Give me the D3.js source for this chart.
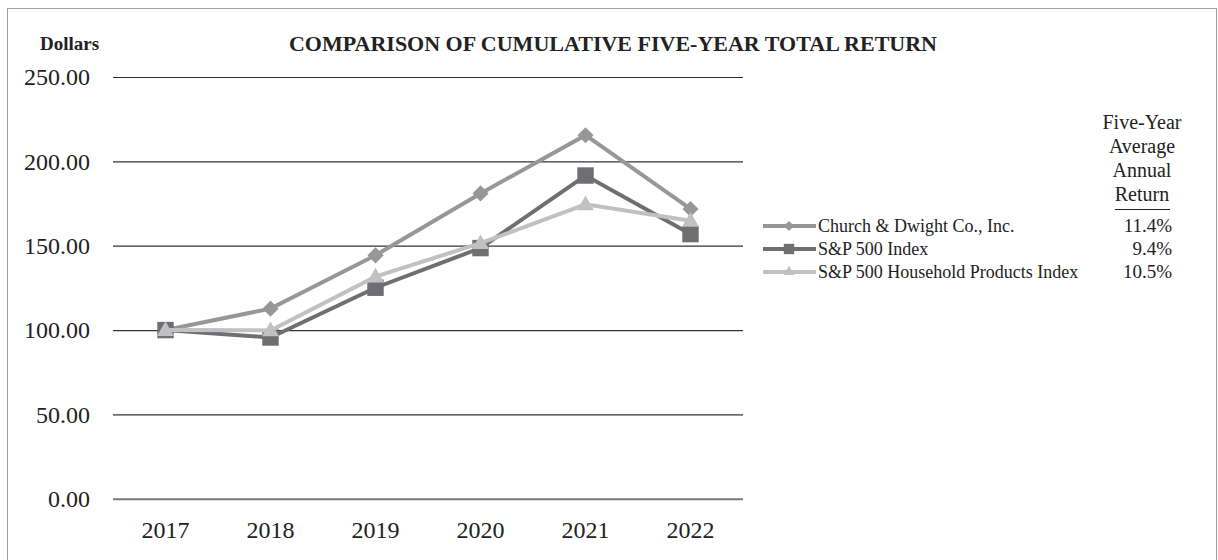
<!DOCTYPE html>
<html>
<head>
<meta charset="utf-8">
<script src="https://cdn.jsdelivr.net/npm/d3@7"></script>
<style>
  body { margin: 0; background: #fff; }
  text { font-family: "Liberation Serif", "Times New Roman", serif; fill: #222; }
</style>
</head>
<body>
<div id="chart"></div>
<script>
// chart data
var years = ['2017', '2018', '2019', '2020', '2021', '2022'];
var churchDwight = [100.00, 112.7, 144.3, 181.0, 215.5, 171.8];
var sp500 = [100.00, 95.6, 125.1, 148.6, 191.6, 156.9];
var householdProducts = [100.00, 99.8, 131.7, 151.5, 174.5, 164.8];
var seriesNames = ['Church & Dwight Co., Inc.', 'S&P 500 Index', 'S&P 500 Household Products Index'];
var avgReturns = ['11.4%', '9.4%', '10.5%'];
var yTicks = [0, 50, 100, 150, 200, 250];

var width = 1218, height = 560;
var margin = { left: 113, right: 475, top: 77, bottom: 61 };

var svg = d3.select('#chart')
  .append('svg')
  .attr('width', width)
  .attr('height', height);

// outer frame
svg.append('rect')
  .attr('x', 7.5).attr('y', 8.5)
  .attr('width', 1209).attr('height', 600)
  .attr('fill', 'none')
  .attr('stroke', '#a0a0a0')
  .attr('stroke-width', 1);

var x = d3.scaleBand().domain(years).range([margin.left, width - margin.right]);
var y = d3.scaleLinear().domain([0, 250]).range([height - margin.bottom - 0.2, margin.top]);
var cx = function(d) { return x(d) + x.bandwidth() / 2; };

// gridlines and y labels
var yAxis = d3.axisLeft(y)
  .tickValues(yTicks)
  .tickFormat(d3.format('.2f'))
  .tickSize(-(width - margin.right - margin.left))
  .tickPadding(23);
var gy = svg.append('g')
  .attr('transform', 'translate(' + margin.left + ',0)')
  .call(yAxis);
gy.select('.domain').remove();
gy.selectAll('.tick line')
  .attr('stroke', function(d) { return d === 0 ? '#7a7a7a' : '#333'; })
  .attr('stroke-width', function(d) { return d === 0 ? 2 : 1.2; });
gy.selectAll('.tick text')
  .attr('font-size', 24)
  .attr('font-family', '"Liberation Serif", serif')
  .attr('fill', '#222');

// x labels
var xAxis = d3.axisBottom(x).tickSize(0).tickPadding(22);
var gx = svg.append('g')
  .attr('transform', 'translate(0,' + y(0) + ')')
  .call(xAxis);
gx.select('.domain').remove();
gx.selectAll('.tick text')
  .attr('font-size', 24)
  .attr('font-family', '"Liberation Serif", serif')
  .attr('fill', '#222');

// series
var series = [
  { name: seriesNames[0], values: churchDwight, color: '#979799', shape: 'diamond' },
  { name: seriesNames[1], values: sp500, color: '#6f6f72', shape: 'square' },
  { name: seriesNames[2], values: householdProducts, color: '#c1c1c3', shape: 'triangle' }
];

function marker(shape, scale) {
  if (shape === 'diamond') return d3.symbol().type(d3.symbolSquare).size(130 * scale)();
  if (shape === 'square') return d3.symbol().type(d3.symbolSquare).size(270 * scale)();
  return d3.symbol().type(d3.symbolTriangle).size(125 * scale)();
}

var line = d3.line()
  .x(function(d, i) { return cx(years[i]); })
  .y(function(d) { return y(d); });

series.forEach(function(s) {
  svg.append('path')
    .datum(s.values)
    .attr('d', line)
    .attr('fill', 'none')
    .attr('stroke', s.color)
    .attr('stroke-width', 4);

  svg.selectAll('.m-' + s.shape)
    .data(s.values)
    .enter()
    .append('path')
    .attr('class', 'm-' + s.shape)
    .attr('d', marker(s.shape, 1))
    .attr('fill', s.color)
    .attr('transform', function(d, i) {
      var t = 'translate(' + cx(years[i]) + ',' + (y(d) + (s.shape === 'triangle' ? 1 : 0)) + ')';
      return s.shape === 'diamond' ? t + ' rotate(45)' : t;
    });
});

// titles
svg.append('text')
  .attr('x', 40).attr('y', 50)
  .attr('font-size', 19)
  .attr('font-weight', 'bold')
  .text('Dollars');

svg.append('text')
  .attr('x', 613).attr('y', 51)
  .attr('text-anchor', 'middle')
  .attr('font-size', 22)
  .attr('font-weight', 'bold')
  .text('COMPARISON OF CUMULATIVE FIVE-YEAR TOTAL RETURN');

// legend
var legendRows = [226, 249, 272];
var legend = svg.append('g');
series.forEach(function(s, i) {
  var ly = legendRows[i];
  legend.append('line')
    .attr('x1', 763).attr('x2', 816)
    .attr('y1', ly).attr('y2', ly)
    .attr('stroke', s.color)
    .attr('stroke-width', 4);
  legend.append('path')
    .attr('d', marker(s.shape, 0.4))
    .attr('fill', s.color)
    .attr('transform', 'translate(789,' + ly + ')' + (s.shape === 'diamond' ? ' rotate(45)' : ''));
  legend.append('text')
    .attr('x', 818).attr('y', ly + 6)
    .attr('font-size', 18)
    .text(s.name);
  legend.append('text')
    .attr('x', 1172).attr('y', ly + 6)
    .attr('text-anchor', 'end')
    .attr('font-size', 19)
    .text(avgReturns[i]);
});

var header = ['Five-Year', 'Average', 'Annual', 'Return'];
legend.selectAll('.hdr')
  .data(header)
  .enter()
  .append('text')
  .attr('class', 'hdr')
  .attr('x', 1142)
  .attr('y', function(d, i) { return 129 + i * 24; })
  .attr('text-anchor', 'middle')
  .attr('font-size', 20)
  .text(function(d) { return d; });

legend.append('line')
  .attr('x1', 1115).attr('x2', 1170)
  .attr('y1', 209.5).attr('y2', 209.5)
  .attr('stroke', '#222')
  .attr('stroke-width', 1.2);
</script>
</body>
</html>
